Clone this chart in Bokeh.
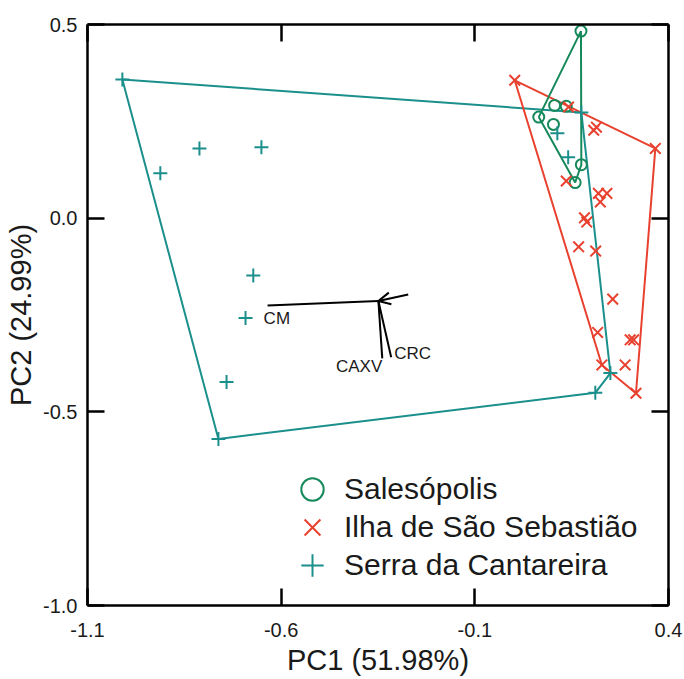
import numpy as np
from bokeh.plotting import figure
from bokeh.models import (Range1d, LinearAxis, FixedTicker, PrintfTickFormatter,
                          Legend, LegendItem, Arrow, OpenHead, ColumnDataSource)
from bokeh.core.properties import value
from bokeh.embed import file_html
from bokeh.resources import INLINE

# ---------------- data ----------------
group_names = ["Salesópolis", "Ilha de São Sebastião", "Serra da Cantareira"]

sal_pc1 = [0.174, 0.106, 0.136, 0.065, 0.103, 0.175, 0.159]
sal_pc2 = [0.483, 0.291, 0.289, 0.261, 0.242, 0.138, 0.092]

ilha_pc1 = [0.003, 0.142, 0.366, 0.207, 0.214, 0.136, 0.219, 0.241, 0.224, 0.183,
            0.189, 0.168, 0.212, 0.256, 0.217, 0.301, 0.310, 0.228, 0.288, 0.316]
ilha_pc2 = [0.356, 0.287, 0.180, 0.227, 0.235, 0.096, 0.064, 0.064, 0.042, 0.001,
            -0.010, -0.074, -0.085, -0.209, -0.295, -0.314, -0.314, -0.379, -0.379, -0.452]

ser_pc1 = [-1.010, -0.912, -0.811, -0.651, -0.672, -0.692, -0.741, -0.762,
           0.113, 0.141, 0.175, 0.250, 0.211]
ser_pc2 = [0.358, 0.116, 0.180, 0.183, -0.148, -0.258, -0.423, -0.570,
           0.219, 0.157, 0.273, -0.400, -0.451]

# loadings (biplot vectors)
load_origin = (-0.349, -0.214)
load_names = ["CM", "CAXV", "CRC"]
load_pc1 = [-0.635, -0.339, -0.316]
load_pc2 = [-0.2255, -0.362, -0.359]
extra_tip = (-0.272, -0.197)   # short unlabeled vector

x_ticks = [-1.1, -0.6, -0.1, 0.4]
y_ticks = [-1.0, -0.5, 0.0, 0.5]

GREEN = "#16895b"
RED = "#e8412f"
TEAL = "#1b8f8c"
FONT = "Liberation Sans"
TXT = "#1a1a1a"


def hull(xs, ys):
    pts = sorted(set(zip(xs, ys)))

    def cross(o, a, b):
        return (a[0] - o[0]) * (b[1] - o[1]) - (a[1] - o[1]) * (b[0] - o[0])

    lower = []
    for pt in pts:
        while len(lower) >= 2 and cross(lower[-2], lower[-1], pt) <= 0:
            lower.pop()
        lower.append(pt)
    upper = []
    for pt in reversed(pts):
        while len(upper) >= 2 and cross(upper[-2], upper[-1], pt) <= 0:
            upper.pop()
        upper.append(pt)
    h = lower[:-1] + upper[:-1]
    h.append(h[0])
    return [q[0] for q in h], [q[1] for q in h]


p = figure(frame_width=581, frame_height=581,
           x_range=Range1d(-1.1, 0.4), y_range=Range1d(-1.0, 0.5),
           output_backend="svg", toolbar_location=None,
           min_border_left=87, min_border_top=24, min_border_right=16, min_border_bottom=8,
           x_axis_label="PC1 (51.98%)", y_axis_label="PC2 (24.99%)")
p.grid.visible = False
p.outline_line_color = None
p.background_fill_color = "white"
p.border_fill_color = "white"

p.add_layout(LinearAxis(), "above")
p.add_layout(LinearAxis(), "right")

for ax in p.xaxis:
    ax.ticker = FixedTicker(ticks=x_ticks)
for ax in p.yaxis:
    ax.ticker = FixedTicker(ticks=y_ticks)
for ax in p.axis:
    ax.formatter = PrintfTickFormatter(format="%.1f")
    ax.axis_line_width = 2.5
    ax.axis_line_color = "black"
    ax.major_tick_line_width = 2.5
    ax.major_tick_line_color = "black"
    ax.major_tick_in = 17
    ax.major_tick_out = 0
    ax.minor_tick_line_color = None
    ax.major_label_text_font = FONT
    ax.major_label_text_font_size = "20px"
    ax.major_label_text_color = TXT
    ax.axis_label_text_font = FONT
    ax.axis_label_text_font_size = "29px"
    ax.axis_label_text_font_style = "normal"
    ax.axis_label_text_color = TXT

for ax in (p.above[0], p.right[0]):
    ax.major_label_text_font_size = "1px"
    ax.major_label_text_color = None
    ax.major_label_standoff = 0

p.below[0].major_label_standoff = 17
p.below[0].axis_label_standoff = 4
p.left[0].major_label_standoff = 10
p.left[0].axis_label_standoff = 3

# hulls
for xs, ys, col in [(ser_pc1, ser_pc2, TEAL), (ilha_pc1, ilha_pc2, RED), (sal_pc1, sal_pc2, GREEN)]:
    hx, hy = hull(xs, ys)
    p.line(hx, hy, line_color=col, line_width=2)

# points
r_sal = p.scatter(sal_pc1, sal_pc2, marker="circle", size=11, fill_color=None,
                  line_color=GREEN, line_width=2)
r_ilha = p.scatter(ilha_pc1, ilha_pc2, marker="x", size=15,
                   line_color=RED, line_width=2)
r_ser = p.scatter(ser_pc1, ser_pc2, marker="cross", size=14,
                  line_color=TEAL, line_width=2)

# loadings
ox, oy = load_origin
p.segment(x0=[ox] * len(load_pc1), y0=[oy] * len(load_pc1), x1=load_pc1, y1=load_pc2,
          line_color="black", line_width=2)
p.add_layout(Arrow(end=OpenHead(size=12, line_width=2, line_color="black"),
                   x_start=extra_tip[0], y_start=extra_tip[1], x_end=ox, y_end=oy,
                   line_color="black", line_width=2))
lsrc = ColumnDataSource(dict(x=load_pc1, y=load_pc2, t=load_names,
                             xo=[-4, 0, 3], yo=[13, 8, -4],
                             al=["left", "right", "left"]))
p.text(x="x", y="y", text="t", x_offset="xo", y_offset="yo", text_align="al",
       text_baseline="middle", text_font=value(FONT), text_font_size="17px",
       text_color=TXT, source=lsrc)

# legend: one single-item legend per group so the rows can sit closer than the glyph box
legend_rows_y = [88, 50, 12]
for name, rend, ly in zip(group_names, [r_sal, r_ilha, r_ser], legend_rows_y):
    lg = Legend(items=[LegendItem(label=name, renderers=[rend])],
                location=(197, ly), glyph_width=56, glyph_height=56,
                padding=0, margin=0, label_standoff=4,
                label_text_font=FONT, label_text_font_size="30px",
                label_text_color=TXT, label_text_baseline="middle",
                border_line_color=None, background_fill_alpha=0)
    p.add_layout(lg, "center")

open("out.html", "w").write(file_html(p, INLINE))
